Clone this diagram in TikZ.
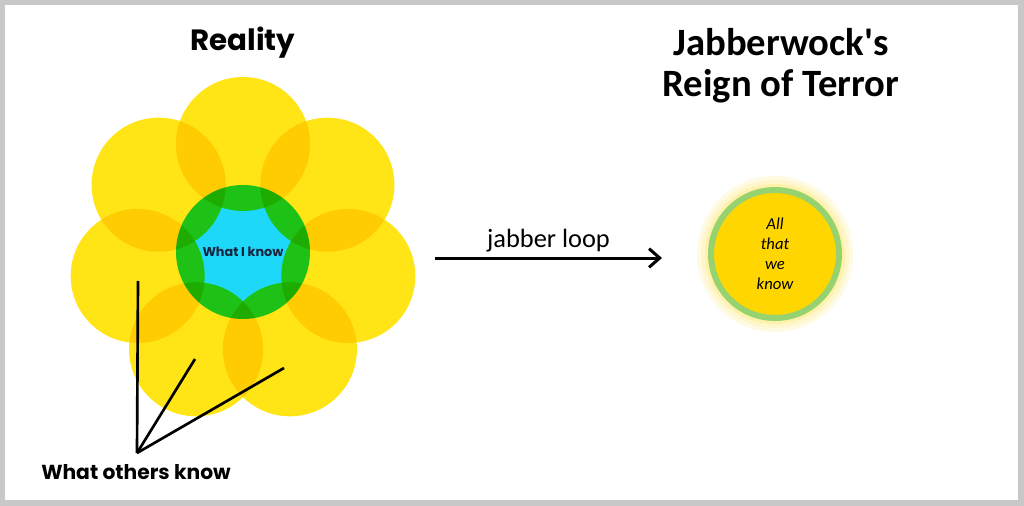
\documentclass[tikz,border=0pt]{standalone}
\usepackage{fontspec}
\setmainfont{Carlito}[Ligatures=TeXOff]
\newfontfamily\geofont{Poppins}
\usetikzlibrary{arrows.meta}
\definecolor{petalyellow}{RGB}{255,228,22}
\definecolor{centrecyan}{RGB}{30,216,250}
\definecolor{knownavy}{RGB}{24,36,62}
\definecolor{framegrey}{RGB}{200,200,200}
\definecolor{weyellow}{RGB}{255,214,0}
\definecolor{ringgreen}{RGB}{150,210,112}
\definecolor{glowyellow}{RGB}{255,236,140}
\tikzstyle{petal} = [fill=petalyellow]
\tikzstyle{centre} = [fill=centrecyan]
\tikzstyle{title} = [font=\geofont\bfseries\fontsize{22}{26}\selectfont, 
inner sep=0pt]
\tikzstyle{bigtitle} = [font=\bfseries\fontsize{29}{32}\selectfont, 
inner sep=0pt]
\tikzstyle{iknowtext} = [font=\geofont\bfseries\fontsize{9.6}{11}\selectfont, 
text=knownavy]
\tikzstyle{otherstext} = [font=\geofont\bfseries\fontsize{15.2}{18}\selectfont, 
inner sep=0pt]
\tikzstyle{pointer} = [line width=2pt]
\tikzstyle{allknow} = [circle, 
minimum size=96pt, 
inner sep=0pt, 
fill=weyellow, 
draw=ringgreen, 
line width=4.5pt, 
align=center, 
font=\itshape\fontsize{12.5}{15}\selectfont]
\tikzstyle{arrow} = [line width=2.25pt,-{Straight Barb[length=8pt,width=14pt]}]
\tikzstyle{looptext} = [font=\fontsize{19.8}{22}\selectfont, inner sep=3pt]

\begin{document}
\begin{tikzpicture}[x=0.75pt, y=-0.75pt]
		% frame
		\fill [framegrey] (0,0) rectangle (1024,506);
		\fill [white] (5,5) rectangle (1018,500);

		% titles
		\node (reality) [title, anchor=base] at (243,51) {Reality};
		\node (jabber) [bigtitle, anchor=base] at (781,56) {Jabberwock's};
		\node (reign) [bigtitle, anchor=base] at (781,97) {Reign of Terror};

		% flower
		\coordinate (flower) at (243,252);
		\begin{scope}[blend group=multiply]
			\fill [centre] (flower) circle (67);
			\fill [petal] (243,144) circle (67);
			\fill [petal] (327.4,184.7) circle (67);
			\fill [petal] (348.3,276) circle (67);
			\fill [petal] (289.9,349.3) circle (67);
			\fill [petal] (196.1,349.3) circle (67);
			\fill [petal] (137.7,276) circle (67);
			\fill [petal] (158.6,184.7) circle (67);
		\end{scope}
		\node (iknow) [iknowtext] at (flower) {What I know};

		\node (others) [otherstext] at (136,472) {What others know};
		\coordinate (apex) at (137,453);
		\coordinate (p1) at (138,281);
		\coordinate (p2) at (195,359);
		\coordinate (p3) at (284,368);
		\draw [pointer] (apex) -- (p1);
		\draw [pointer] (apex) -- (p2);
		\draw [pointer] (apex) -- (p3);

		% jabber loop
		\coordinate (loopstart) at (435,258);
		\coordinate (loopend) at (662,258);
		\draw [arrow] (loopstart) -- node [looptext, above] {jabber loop} (loopend);

		% all that we know
		\coordinate (glow) at (775,254);
		\fill [glowyellow!25] (glow) circle (78);
		\fill [glowyellow!45] (glow) circle (74);
		\fill [glowyellow!75] (glow) circle (70);
		\node (weknow) [allknow] at (glow) {All\\that\\we\\know};
	\end{tikzpicture}
\end{document}
